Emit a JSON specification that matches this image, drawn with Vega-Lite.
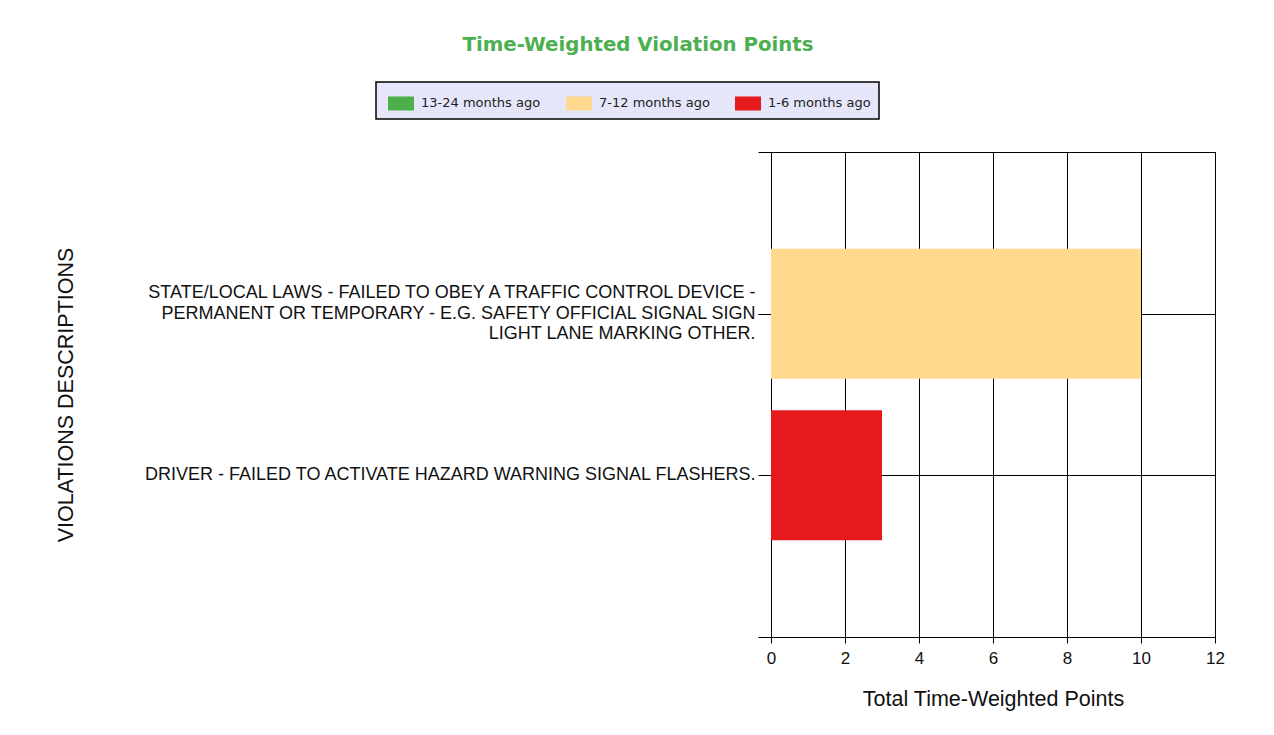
{
  "$schema": "https://vega.github.io/schema/vega-lite/v6.json",
  "width": 444,
  "height": 485,
  "autosize": "none",
  "padding": {"left": 771, "top": 152, "right": 59, "bottom": 98},
  "background": "white",
  "title": {
    "text": "Time-Weighted Violation Points",
    "font": "DejaVu Sans",
    "fontSize": 19.75,
    "fontWeight": "bold",
    "color": "#4CAF50",
    "anchor": "middle",
    "frame": "group",
    "dx": -355,
    "offset": 27
  },
  "data": {
    "values": [
      {"violation": "STATE/LOCAL LAWS - FAILED TO OBEY A TRAFFIC CONTROL DEVICE - PERMANENT OR TEMPORARY - E.G. SAFETY OFFICIAL SIGNAL SIGN LIGHT LANE MARKING OTHER.", "period": "7-12 months ago", "points": 10},
      {"violation": "DRIVER - FAILED TO ACTIVATE HAZARD WARNING SIGNAL FLASHERS.", "period": "1-6 months ago", "points": 3}
    ]
  },
  "mark": {"type": "bar", "height": 130},
  "encoding": {
    "y": {
      "field": "violation",
      "type": "nominal",
      "scale": {
        "type": "point",
        "padding": 0,
        "domain": [
          "_top",
          "STATE/LOCAL LAWS - FAILED TO OBEY A TRAFFIC CONTROL DEVICE - PERMANENT OR TEMPORARY - E.G. SAFETY OFFICIAL SIGNAL SIGN LIGHT LANE MARKING OTHER.",
          "DRIVER - FAILED TO ACTIVATE HAZARD WARNING SIGNAL FLASHERS.",
          "_bottom"
        ]
      },
      "axis": {
        "title": "VIOLATIONS DESCRIPTIONS",
        "titleFont": "Liberation Sans",
        "titleFontSize": 21.5,
        "titleFontWeight": "normal",
        "titleColor": "#111",
        "titleAngle": -90,
        "titleBaseline": "middle",
        "titleAlign": "center",
        "titleX": -705,
        "titleY": 242.5,
        "labelExpr": "datum.value == '_top' || datum.value == '_bottom' ? '' : (indexof(datum.value, 'STATE/LOCAL') == 0 ? ['STATE/LOCAL LAWS - FAILED TO OBEY A TRAFFIC CONTROL DEVICE -', 'PERMANENT OR TEMPORARY - E.G. SAFETY OFFICIAL SIGNAL SIGN', 'LIGHT LANE MARKING OTHER.'] : datum.label)",
        "labelFont": "Liberation Sans",
        "labelFontSize": 18,
        "labelColor": "#111",
        "labelLineHeight": 20.5,
        "labelLimit": 0,
        "labelPadding": 3,
        "labelBaseline": "middle",
        "labelOffset": {
          "condition": {"test": "indexof(datum.value, 'STATE/LOCAL') == 0", "value": -21},
          "value": -1
        },
        "tickSize": 13,
        "tickColor": "black",
        "domain": false,
        "grid": true,
        "gridColor": "black",
        "gridOpacity": 1,
        "gridWidth": 1
      }
    },
    "x": {
      "field": "points",
      "type": "quantitative",
      "scale": {"domain": [0, 12], "nice": false},
      "axis": {
        "title": "Total Time-Weighted Points",
        "titleFont": "Liberation Sans",
        "titleFontSize": 21.5,
        "titleFontWeight": "normal",
        "titleColor": "#111",
        "titlePadding": 22,
        "values": [0, 2, 4, 6, 8, 10, 12],
        "labelFont": "Liberation Sans",
        "labelFontSize": 17,
        "labelColor": "#111",
        "labelPadding": 7,
        "labelFlush": false,
        "tickSize": 6,
        "tickColor": "black",
        "domain": false,
        "grid": true,
        "gridColor": "black",
        "gridOpacity": 1,
        "gridWidth": 1
      }
    },
    "color": {
      "field": "period",
      "type": "nominal",
      "scale": {
        "domain": ["13-24 months ago", "7-12 months ago", "1-6 months ago"],
        "range": ["#4DAF4A", "#FED98E", "#E41A1C"]
      },
      "legend": {
        "title": null,
        "orient": "none",
        "legendX": -395,
        "legendY": -70,
        "direction": "horizontal",
        "fillColor": "#E6E6FA",
        "strokeColor": "black",
        "padding": 8,
        "columnPadding": 21,
        "symbolOffset": 4,
        "symbolType": "M-1,-0.54H1V0.54H-1Z",
        "symbolSize": 676,
        "symbolStrokeWidth": 0,
        "symbolOpacity": 1,
        "labelFont": "DejaVu Sans",
        "labelFontSize": 13,
        "labelColor": "#222",
        "labelOffset": 7
      }
    }
  },
  "config": {
    "view": {"stroke": "black", "strokeWidth": 1},
    "legend": {"strokeWidth": 1.5}
  }
}
